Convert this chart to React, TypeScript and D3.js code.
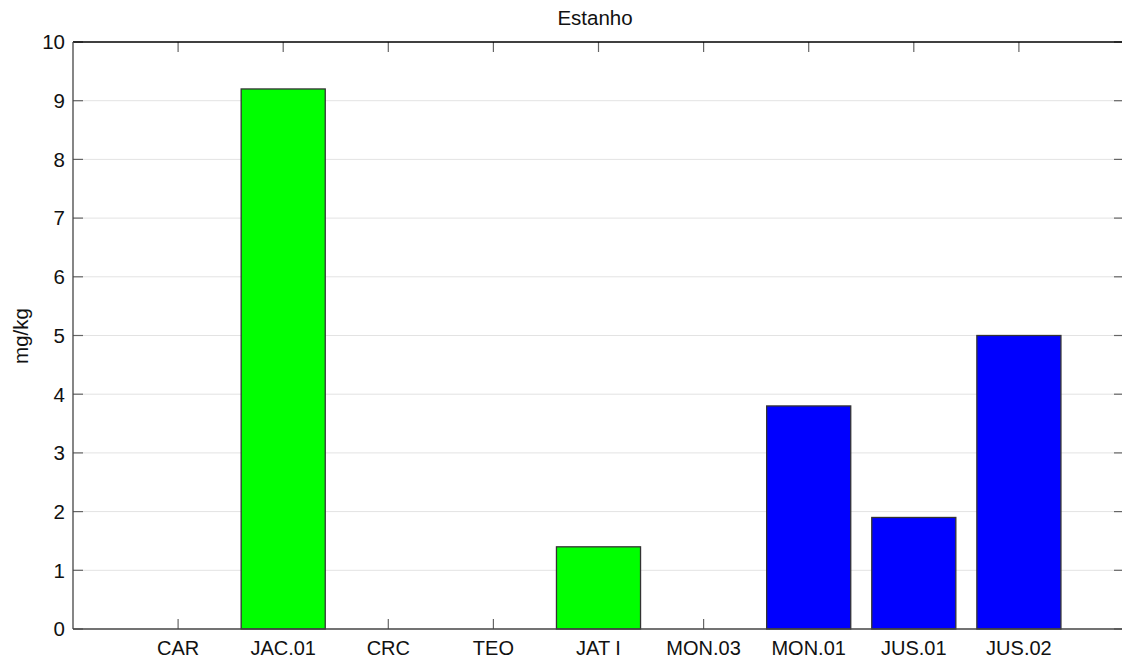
import React from "react";
import * as d3 from "d3";

const categories = ["CAR", "JAC.01", "CRC", "TEO", "JAT I", "MON.03", "MON.01", "JUS.01", "JUS.02"];
const values = [0, 9.2, 0, 0, 1.4, 0, 3.8, 1.9, 5.0];
const barColors = ["#00ff00", "#00ff00", "#00ff00", "#00ff00", "#00ff00", "#0000ff", "#0000ff", "#0000ff", "#0000ff"];
const yTicks = [0, 1, 2, 3, 4, 5, 6, 7, 8, 9, 10];
const title = "Estanho";
const yLabel = "mg/kg";

export default function App() {
  const W = 1122, H = 658;
  const L = 73, R = 1124, T = 42, B = 629;
  const x = d3.scaleLinear().domain([0, 10]).range([L, R]);
  const y = d3.scaleLinear().domain([0, 10]).range([B, T]);
  const bw = x(0.8) - x(0);
  const font = "Arial, 'Liberation Sans', sans-serif";
  const tick = 10;
  return (
    <svg width={W} height={H} style={{ position: "absolute", left: 0, top: 0, background: "#fff" }}>
      <rect x={0} y={0} width={W} height={H} fill="#fff" />
      {yTicks.slice(1, -1).map((t) => (
        <line key={"g" + t} x1={L} x2={R} y1={y(t)} y2={y(t)} stroke="#e3e3e3" strokeWidth={1} />
      ))}
      {/* x ticks */}
      {categories.map((c, i) => (
        <g key={"xt" + c}>
          <line x1={x(i + 1)} x2={x(i + 1)} y1={B} y2={B - tick} stroke="#666" strokeWidth={1.2} />
          <line x1={x(i + 1)} x2={x(i + 1)} y1={T} y2={T + tick} stroke="#666" strokeWidth={1.2} />
        </g>
      ))}
      {/* bars */}
      {values.map((v, i) =>
        v > 0 ? (
          <rect
            key={"b" + i}
            x={x(i + 1) - bw / 2}
            y={y(v)}
            width={bw}
            height={y(0) - y(v)}
            fill={barColors[i]}
            stroke="#333"
            strokeWidth={1.3}
          />
        ) : null
      )}
      {/* y ticks */}
      {yTicks.map((t) => (
        <g key={"yt" + t}>
          <line x1={L} x2={L + tick} y1={y(t)} y2={y(t)} stroke="#666" strokeWidth={1.2} />
          <line x1={R} x2={R - tick} y1={y(t)} y2={y(t)} stroke="#666" strokeWidth={1.2} />
          <text x={L - 8} y={y(t)} dy="0.36em" textAnchor="end" fontFamily={font} fontSize={20.5} fill="#111">
            {t}
          </text>
        </g>
      ))}
      {/* frame */}
      <line x1={L} x2={R} y1={T} y2={T} stroke="#000" strokeWidth={1.3} />
      <line x1={R} x2={R} y1={T} y2={B} stroke="#000" strokeWidth={1.3} />
      <line x1={L} x2={L} y1={T} y2={B} stroke="#444" strokeWidth={1.3} />
      <line x1={L} x2={R} y1={B} y2={B} stroke="#444" strokeWidth={1.3} />
      {categories.map((c, i) => (
        <text key={"xl" + c} x={x(i + 1)} y={B + 26} textAnchor="middle" fontFamily={font} fontSize={20} fill="#111">
          {c}
        </text>
      ))}
      <text x={595} y={25} textAnchor="middle" fontFamily={font} fontSize={20.5} fill="#111">
        {title}
      </text>
      <text
        transform={`translate(28, 336) rotate(-90)`}
        textAnchor="middle"
        fontFamily={font}
        fontSize={20.5}
        fill="#111"
      >
        {yLabel}
      </text>
    </svg>
  );
}
